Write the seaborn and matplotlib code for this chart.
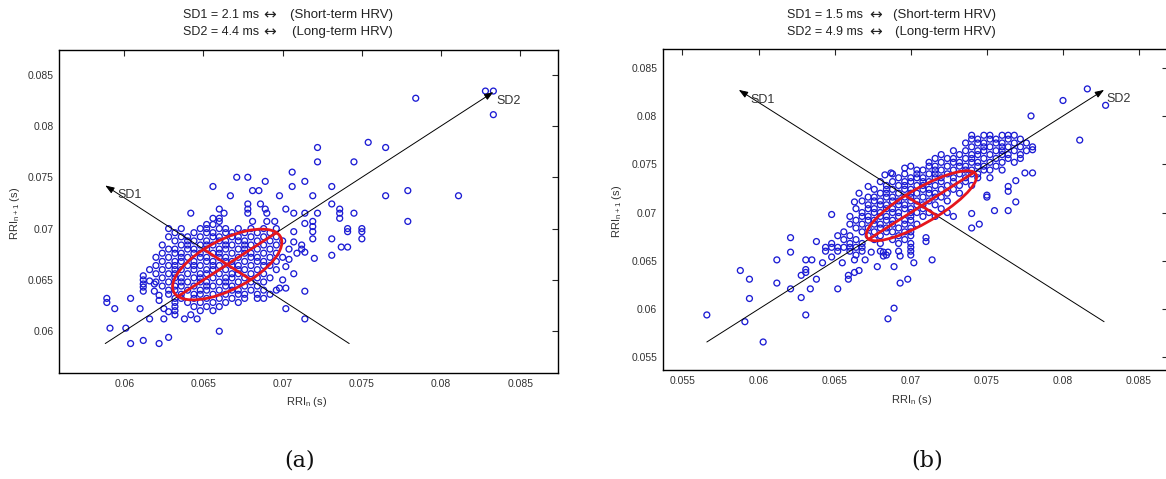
import pandas as pd
import matplotlib
matplotlib.use('Agg')
import matplotlib.pyplot as plt
from matplotlib.patches import Ellipse
import seaborn as sns

# Poincare plots of RR intervals, two recordings (a) and (b)
# values, all in seconds

# left panel (a): dense core, one row per RRI_n+1 level -> RRI_n values
left_core_rows = [
    (0.0700, [0.0636, 0.0648, 0.0652, 0.0660, 0.0664, 0.0672, 0.0680, 0.0688, 0.0696]),
    (0.0696, [0.0632, 0.0644, 0.0652, 0.0656, 0.0664, 0.0668, 0.0676, 0.0684, 0.0692]),
    (0.0692, [0.0628, 0.0636, 0.0640, 0.0648, 0.0656, 0.0660, 0.0668, 0.0672, 0.0680, 0.0688, 0.0696]),
    (0.0688, [0.0632, 0.0640, 0.0644, 0.0652, 0.0660, 0.0664, 0.0672, 0.0676, 0.0684, 0.0692, 0.0700]),
    (0.0684, [0.0624, 0.0636, 0.0640, 0.0648, 0.0652, 0.0656, 0.0664, 0.0668, 0.0676, 0.0680, 0.0688, 0.0696]),
    (0.0680, [0.0628, 0.0632, 0.0640, 0.0644, 0.0652, 0.0660, 0.0664, 0.0672, 0.0676, 0.0684, 0.0692, 0.0704]),
    (0.0676, [0.0624, 0.0632, 0.0636, 0.0644, 0.0648, 0.0656, 0.0660, 0.0668, 0.0676, 0.0680, 0.0688, 0.0696]),
    (0.0672, [0.0620, 0.0628, 0.0636, 0.0640, 0.0648, 0.0652, 0.0660, 0.0664, 0.0672, 0.0680, 0.0684, 0.0692, 0.0700]),
    (0.0668, [0.0624, 0.0632, 0.0636, 0.0644, 0.0652, 0.0656, 0.0664, 0.0668, 0.0676, 0.0684, 0.0688, 0.0696]),
    (0.0664, [0.0620, 0.0628, 0.0632, 0.0640, 0.0644, 0.0648, 0.0656, 0.0660, 0.0668, 0.0672, 0.0680, 0.0688, 0.0692]),
    (0.0660, [0.0616, 0.0624, 0.0632, 0.0636, 0.0644, 0.0652, 0.0656, 0.0664, 0.0672, 0.0676, 0.0684, 0.0696]),
    (0.0656, [0.0620, 0.0628, 0.0632, 0.0640, 0.0648, 0.0652, 0.0660, 0.0668, 0.0672, 0.0680, 0.0688]),
    (0.0652, [0.0624, 0.0632, 0.0636, 0.0644, 0.0648, 0.0656, 0.0664, 0.0668, 0.0676, 0.0684, 0.0692]),
    (0.0648, [0.0620, 0.0628, 0.0636, 0.0640, 0.0648, 0.0652, 0.0660, 0.0664, 0.0672, 0.0680, 0.0688]),
    (0.0644, [0.0624, 0.0632, 0.0636, 0.0644, 0.0652, 0.0656, 0.0664, 0.0668, 0.0676, 0.0684]),
    (0.0640, [0.0628, 0.0632, 0.0640, 0.0648, 0.0652, 0.0660, 0.0668, 0.0672, 0.0680, 0.0688, 0.0696]),
    (0.0636, [0.0628, 0.0636, 0.0644, 0.0648, 0.0656, 0.0664, 0.0672, 0.0676, 0.0684, 0.0692]),
    (0.0632, [0.0632, 0.0636, 0.0644, 0.0652, 0.0660, 0.0668, 0.0676, 0.0684, 0.0688]),
    (0.0628, [0.0632, 0.0640, 0.0648, 0.0656, 0.0664, 0.0672]),
    (0.0624, [0.0632, 0.0644, 0.0652, 0.0660]),
    (0.0620, [0.0632, 0.0648, 0.0656]),
]
# left panel (a): scattered points around the core (RRI_n, RRI_n+1)
left_outer_pts = [
    (0.0589, 0.0632), (0.0589, 0.0628), (0.0594, 0.0622), (0.0591, 0.0603), (0.0601, 0.0603),
    (0.0604, 0.0632), (0.0604, 0.0588), (0.0612, 0.0591), (0.0622, 0.0588), (0.0628, 0.0594),
    (0.0610, 0.0622), (0.0616, 0.0612), (0.0625, 0.0612), (0.0632, 0.0616), (0.0638, 0.0612),
    (0.0642, 0.0616), (0.0646, 0.0612), (0.0660, 0.0600), (0.0702, 0.0622), (0.0714, 0.0639),
    (0.0714, 0.0612), (0.0612, 0.0654), (0.0612, 0.0650), (0.0612, 0.0646), (0.0612, 0.0643),
    (0.0612, 0.0639), (0.0616, 0.0649), (0.0619, 0.0646), (0.0619, 0.0639), (0.0622, 0.0630),
    (0.0622, 0.0635), (0.0625, 0.0622), (0.0628, 0.0619),
    (0.0698, 0.0642), (0.0702, 0.0642), (0.0707, 0.0656), (0.0702, 0.0663), (0.0709, 0.0676),
    (0.0714, 0.0677), (0.0720, 0.0671), (0.0731, 0.0674), (0.0737, 0.0682), (0.0741, 0.0682),
    (0.0731, 0.0690), (0.0741, 0.0697), (0.0750, 0.0697), (0.0750, 0.0690), (0.0707, 0.0697),
    (0.0719, 0.0690), (0.0719, 0.0697), (0.0712, 0.0684), (0.0712, 0.0680), (0.0707, 0.0687),
    (0.0704, 0.0670), (0.0700, 0.0650),
    (0.0828, 0.0834), (0.0833, 0.0834), (0.0833, 0.0811), (0.0784, 0.0827), (0.0754, 0.0784),
    (0.0765, 0.0779), (0.0722, 0.0779), (0.0722, 0.0765), (0.0745, 0.0765), (0.0706, 0.0755),
    (0.0671, 0.0750), (0.0678, 0.0750), (0.0689, 0.0746), (0.0714, 0.0746), (0.0656, 0.0741),
    (0.0706, 0.0741), (0.0731, 0.0741), (0.0681, 0.0737), (0.0685, 0.0737), (0.0779, 0.0737),
    (0.0667, 0.0732), (0.0698, 0.0732), (0.0719, 0.0732), (0.0765, 0.0732), (0.0811, 0.0732),
    (0.0678, 0.0724), (0.0678, 0.0719), (0.0686, 0.0724), (0.0689, 0.0719), (0.0702, 0.0719),
    (0.0731, 0.0724), (0.0736, 0.0719), (0.0736, 0.0715), (0.0660, 0.0719), (0.0642, 0.0715),
    (0.0656, 0.0710), (0.0660, 0.0710), (0.0663, 0.0715), (0.0678, 0.0715), (0.0690, 0.0715),
    (0.0707, 0.0715), (0.0714, 0.0715), (0.0722, 0.0715), (0.0745, 0.0715), (0.0736, 0.0710),
    (0.0779, 0.0707), (0.0681, 0.0707), (0.0690, 0.0707), (0.0695, 0.0707), (0.0714, 0.0705),
    (0.0719, 0.0707), (0.0719, 0.0702), (0.0741, 0.0700), (0.0750, 0.0700), (0.0628, 0.0700),
    (0.0652, 0.0704), (0.0656, 0.0704), (0.0660, 0.0707),
]

# right panel (b)
right_core_rows = [
    (0.0780, [0.0740, 0.0748, 0.0752, 0.0760, 0.0764, 0.0768]),
    (0.0776, [0.0740, 0.0744, 0.0752, 0.0756, 0.0764, 0.0772]),
    (0.0772, [0.0736, 0.0744, 0.0748, 0.0756, 0.0760, 0.0768, 0.0776]),
    (0.0768, [0.0740, 0.0748, 0.0752, 0.0760, 0.0764, 0.0772, 0.0780]),
    (0.0764, [0.0728, 0.0736, 0.0744, 0.0748, 0.0756, 0.0760, 0.0768, 0.0776]),
    (0.0760, [0.0720, 0.0732, 0.0740, 0.0744, 0.0752, 0.0760, 0.0764, 0.0772]),
    (0.0756, [0.0716, 0.0724, 0.0728, 0.0736, 0.0740, 0.0748, 0.0756, 0.0764, 0.0772]),
    (0.0752, [0.0712, 0.0720, 0.0728, 0.0732, 0.0740, 0.0744, 0.0752, 0.0760, 0.0768]),
    (0.0748, [0.0700, 0.0712, 0.0716, 0.0724, 0.0732, 0.0736, 0.0744, 0.0748, 0.0756]),
    (0.0744, [0.0704, 0.0708, 0.0716, 0.0720, 0.0728, 0.0736, 0.0740, 0.0748, 0.0752, 0.0760]),
    (0.0740, [0.0688, 0.0696, 0.0704, 0.0712, 0.0716, 0.0724, 0.0732, 0.0740, 0.0744]),
    (0.0736, [0.0692, 0.0700, 0.0704, 0.0708, 0.0716, 0.0720, 0.0728, 0.0736, 0.0744, 0.0752]),
    (0.0732, [0.0680, 0.0688, 0.0696, 0.0700, 0.0708, 0.0712, 0.0720, 0.0728, 0.0736]),
    (0.0728, [0.0684, 0.0692, 0.0696, 0.0704, 0.0708, 0.0716, 0.0724, 0.0732, 0.0740]),
    (0.0724, [0.0676, 0.0684, 0.0688, 0.0696, 0.0700, 0.0708, 0.0712, 0.0720, 0.0728]),
    (0.0720, [0.0680, 0.0684, 0.0692, 0.0700, 0.0704, 0.0712, 0.0716, 0.0724, 0.0732]),
    (0.0716, [0.0672, 0.0676, 0.0684, 0.0688, 0.0696, 0.0700, 0.0708, 0.0716, 0.0720]),
    (0.0712, [0.0668, 0.0676, 0.0680, 0.0688, 0.0692, 0.0700, 0.0704, 0.0712, 0.0724]),
    (0.0708, [0.0672, 0.0680, 0.0684, 0.0692, 0.0696, 0.0704, 0.0708, 0.0716]),
    (0.0704, [0.0664, 0.0672, 0.0676, 0.0684, 0.0688, 0.0696, 0.0700, 0.0708, 0.0720]),
    (0.0700, [0.0668, 0.0676, 0.0680, 0.0688, 0.0692, 0.0700, 0.0704, 0.0712]),
    (0.0696, [0.0660, 0.0668, 0.0672, 0.0680, 0.0684, 0.0692, 0.0700, 0.0708, 0.0716]),
    (0.0692, [0.0664, 0.0672, 0.0676, 0.0684, 0.0688, 0.0696, 0.0700]),
    (0.0688, [0.0660, 0.0668, 0.0676, 0.0680, 0.0688, 0.0696, 0.0704]),
    (0.0684, [0.0664, 0.0672, 0.0680, 0.0684, 0.0692, 0.0700]),
    (0.0680, [0.0656, 0.0668, 0.0676, 0.0684, 0.0688, 0.0696, 0.0700]),
    (0.0676, [0.0652, 0.0660, 0.0672, 0.0680, 0.0692, 0.0700]),
    (0.0672, [0.0656, 0.0664, 0.0676, 0.0688, 0.0696]),
    (0.0668, [0.0648, 0.0660, 0.0668, 0.0680, 0.0692, 0.0700]),
    (0.0664, [0.0644, 0.0648, 0.0652, 0.0656, 0.0660, 0.0664, 0.0668, 0.0700]),
    (0.0660, [0.0644, 0.0652, 0.0660, 0.0668, 0.0680, 0.0692, 0.0700]),
    (0.0656, [0.0664, 0.0684, 0.0700]),
]
right_outer_pts = [
    (0.0566, 0.0594), (0.0588, 0.0640), (0.0594, 0.0631), (0.0594, 0.0611), (0.0591, 0.0587),
    (0.0603, 0.0566), (0.0612, 0.0651), (0.0612, 0.0627), (0.0621, 0.0674), (0.0621, 0.0659),
    (0.0621, 0.0621), (0.0628, 0.0612), (0.0628, 0.0635), (0.0631, 0.0651), (0.0635, 0.0651),
    (0.0631, 0.0641), (0.0631, 0.0638), (0.0631, 0.0594), (0.0634, 0.0621), (0.0638, 0.0631),
    (0.0638, 0.0670), (0.0642, 0.0648), (0.0648, 0.0654), (0.0652, 0.0621), (0.0655, 0.0648),
    (0.0659, 0.0635), (0.0659, 0.0631), (0.0663, 0.0651), (0.0663, 0.0638), (0.0666, 0.0640),
    (0.0670, 0.0651), (0.0674, 0.0659), (0.0678, 0.0644), (0.0682, 0.0659), (0.0682, 0.0655),
    (0.0685, 0.0659), (0.0685, 0.0590), (0.0689, 0.0601), (0.0689, 0.0644), (0.0693, 0.0627),
    (0.0693, 0.0655), (0.0698, 0.0631), (0.0702, 0.0648), (0.0714, 0.0651), (0.0710, 0.0670),
    (0.0710, 0.0674), (0.0740, 0.0684), (0.0745, 0.0688), (0.0648, 0.0698), (0.0663, 0.0711),
    (0.0666, 0.0720), (0.0672, 0.0727), (0.0683, 0.0739), (0.0687, 0.0741), (0.0696, 0.0746),
    (0.0816, 0.0828), (0.0800, 0.0816), (0.0828, 0.0811), (0.0779, 0.0800), (0.0811, 0.0775),
    (0.0780, 0.0765), (0.0775, 0.0741), (0.0780, 0.0741), (0.0769, 0.0733), (0.0764, 0.0727),
    (0.0764, 0.0722), (0.0769, 0.0711), (0.0755, 0.0702), (0.0764, 0.0702), (0.0740, 0.0699),
    (0.0750, 0.0716), (0.0750, 0.0718), (0.0728, 0.0696), (0.0724, 0.0700),
]

# Poincare descriptors shown in the titles (ms) and centre / range of the point cloud (s)
left_sd = [2.1, 4.4]
right_sd = [1.5, 4.9]
left_centre = 0.0665
right_centre = 0.0707
left_span = [0.0588, 0.0833]
right_span = [0.0566, 0.0827]

left_ticks = [0.06, 0.065, 0.07, 0.075, 0.08, 0.085]
left_ticklabels = ['0.06', '0.065', '0.07', '0.075', '0.08', '0.085']
right_ticks = [0.055, 0.06, 0.065, 0.07, 0.075, 0.08, 0.085]
right_ticklabels = ['0.055', '0.06', '0.065', '0.07', '0.075', '0.08', '0.085']
left_lims = [0.0559, 0.0874]
right_lims = [0.0537, 0.0869]

BLUE = '#1c1cd4'
RED = '#e5161c'
GREY = '#333333'

W, H = 1166, 479


def to_frame(rows, pts):
    xs, ys = [], []
    for y, row in rows:
        xs += row
        ys += [y] * len(row)
    for x, y in pts:
        xs.append(x)
        ys.append(y)
    return pd.DataFrame({'rri_n': xs, 'rri_n1': ys})


def px_axes(fig, left, right, top, bottom):
    # axes box given in pixels of the 1166x479 picture
    return fig.add_axes([left / W, 1 - bottom / H, (right - left) / W, (bottom - top) / H])


def draw_panel(ax, df, sd, centre, span, lims, ticks, ticklabels):
    sns.scatterplot(data=df, x='rri_n', y='rri_n1', ax=ax, marker='o', s=18,
                    color=BLUE, facecolor='none', edgecolor=BLUE, linewidth=0.95,
                    legend=False, zorder=2)

    sd1, sd2 = sd[0] / 1000, sd[1] / 1000
    lo, hi = span
    half = min(centre - lo, hi - centre)
    arrow = dict(arrowstyle='-|>,head_length=0.6,head_width=0.22', color='k', lw=0.7,
                 mutation_scale=9, shrinkA=0, shrinkB=0)
    # SD2 direction (line of identity) and SD1 direction (perpendicular)
    ax.annotate('', xy=(hi, hi), xytext=(lo, lo), arrowprops=arrow, zorder=3)
    ax.annotate('', xy=(centre - half, centre + half), xytext=(centre + half, centre - half),
                arrowprops=arrow, zorder=3)
    ax.annotate('SD1', xy=(centre - half, centre + half), xytext=(8.5, -7), textcoords='offset points',
                ha='left', va='center', fontsize=9, color=GREY, zorder=5)
    ax.annotate('SD2', xy=(hi, hi), xytext=(2, -6.5), textcoords='offset points',
                ha='left', va='center', fontsize=9, color=GREY, zorder=5)

    # fitted ellipse with its two axes
    ax.add_patch(Ellipse((centre, centre), width=2 * sd2, height=2 * sd1, angle=45,
                         fill=False, ec=RED, lw=2, zorder=4))
    d2 = sd2 / 2 ** 0.5
    d1 = sd1 / 2 ** 0.5
    ax.plot([centre - d2, centre + d2], [centre - d2, centre + d2], color=RED, lw=2, zorder=4)
    ax.plot([centre - d1, centre + d1], [centre + d1, centre - d1], color=RED, lw=2, zorder=4)

    ax.set_xlim(lims)
    ax.set_ylim(lims)
    ax.set_xticks(ticks)
    ax.set_xticklabels(ticklabels)
    ax.set_yticks(ticks)
    ax.set_yticklabels(ticklabels)
    ax.tick_params(direction='in', length=4.5, width=0.8, top=True, right=True,
                   labelsize=7.5, labelcolor=GREY, pad=4)
    for sp in ax.spines.values():
        sp.set_visible(True)
        sp.set_color('k')
        sp.set_linewidth(1.0)
    ax.set_xlabel('RRI$_{n}$ (s)', fontsize=8, color=GREY)
    ax.set_ylabel('RRI$_{n+1}$ (s)', fontsize=8, color=GREY)
    ax.xaxis.label.set_va('center')
    ax.yaxis.label.set_va('center')


sns.set_style('white')
plt.rcParams['font.family'] = ['Liberation Sans', 'DejaVu Sans']
plt.rcParams['mathtext.default'] = 'regular'

fig = plt.figure(figsize=(W / 100, H / 100), dpi=100)
fig.patch.set_facecolor('white')

ax_a = px_axes(fig, 59.3, 558.3, 50, 373.3)
ax_b = px_axes(fig, 662.7, 1168, 49.3, 370)

left = to_frame(left_core_rows, left_outer_pts)
right = to_frame(right_core_rows, right_outer_pts)

draw_panel(ax_a, left, left_sd, left_centre, left_span, left_lims, left_ticks, left_ticklabels)
draw_panel(ax_b, right, right_sd, right_centre, right_span, right_lims, right_ticks, right_ticklabels)

ax_a.xaxis.set_label_coords(0.496, -0.088)
ax_a.yaxis.set_label_coords(-0.089, 0.496)
ax_b.xaxis.set_label_coords(0.492, -0.094)
ax_b.yaxis.set_label_coords(-0.091, 0.493)

# two-line headers: "SDx = value"  <->  "(meaning)", positioned in pixels
for x0, xarr, x1, sd in [(183.3, 270, 393, left_sd), (787.4, 876, 996, right_sd)]:
    for y0, name, val, meaning in [(15, 'SD1', sd[0], '(Short-term HRV)'),
                                   (32, 'SD2', sd[1], '(Long-term HRV)')]:
        fig.text(x0 / W, 1 - y0 / H, f'{name} = {val} ms', ha='left', va='center',
                 fontsize=9, color='#222222')
        fig.text(xarr / W, 1 - y0 / H, '\u2194', ha='center', va='center',
                 fontsize=11, family='DejaVu Sans', color='#222222')
        fig.text(x1 / W, 1 - y0 / H, meaning, ha='right', va='center',
                 fontsize=9.5, color='#222222')

fig.text(300 / W, 1 - 460 / H, '(a)', ha='center', va='center', fontsize=16,
         family='DejaVu Serif', color='#111111')
fig.text(927.5 / W, 1 - 460 / H, '(b)', ha='center', va='center', fontsize=16,
         family='DejaVu Serif', color='#111111')

fig.savefig('out.png', dpi=100, facecolor='white')
